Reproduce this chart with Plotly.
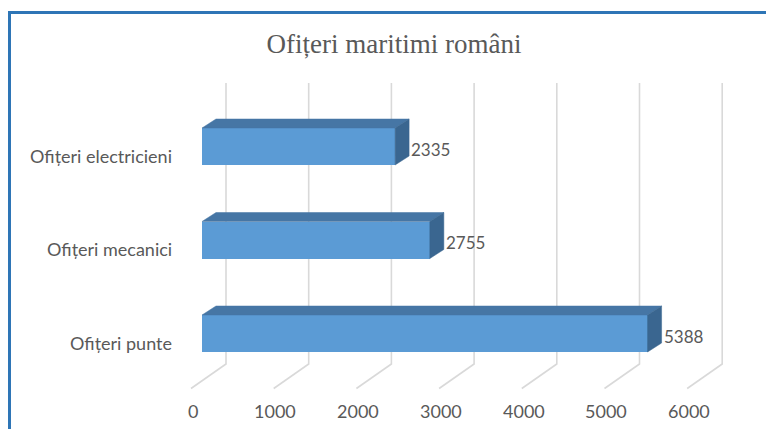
import plotly.graph_objects as go

# ---- data ----
categories = ["Ofițeri punte", "Ofițeri mecanici", "Ofițeri electricieni"]
values = [5388, 2755, 2335]
tick_values = [0, 1000, 2000, 3000, 4000, 5000, 6000]
tick_labels = ["0", "1000", "2000", "3000", "4000", "5000", "6000"]
title_text = "Ofițeri maritimi români"

# ---- geometry / style ----
W, H = 766, 429
PX_PER_VAL = 0.0827      # pixels per value unit
X0_PX = 202              # pixel of value 0 on bar front plane
PX_PER_CAT = 93.5        # pixels per category step
Y0_PX = 333.5            # pixel of first category centre
BAR_W = 37 / PX_PER_CAT
DX = 14 / PX_PER_VAL     # bar depth (value units)
DY = 9 / PX_PER_CAT      # bar depth (category units)
WALL_DX = 24 / PX_PER_VAL
FLOOR_DX = -11 / PX_PER_VAL
GRID_TOP = (Y0_PX - 83) / PX_PER_CAT
GRID_BOT = (Y0_PX - 364) / PX_PER_CAT
FLOOR_Y = (Y0_PX - 388.5) / PX_PER_CAT

FRONT = "#5B9BD5"
TOP = "#4676A5"
SIDE = "#3A6690"
GRID = "#D9D9D9"
TXT = "#595959"
FONT = "Lato"

ypos = list(range(len(categories)))

fig = go.Figure()

# back-wall gridlines + floor lines (below the bars)
shapes = []
for v in tick_values:
    path = "M {a},{b} L {c},{d} L {e},{f}".format(
        a=v + WALL_DX, b=GRID_TOP, c=v + WALL_DX, d=GRID_BOT,
        e=v + FLOOR_DX, f=FLOOR_Y)
    shapes.append(dict(type="path", path=path, xref="x", yref="y",
                       line=dict(color=GRID, width=1.6), layer="below"))

# bar front faces
fig.add_trace(go.Bar(x=values, y=ypos, orientation="h", width=BAR_W,
                     marker=dict(color=FRONT, line=dict(width=0)),
                     hoverinfo="x", showlegend=False))

# top and side faces
for k, v in zip(ypos, values):
    t = k + BAR_W / 2
    b = k - BAR_W / 2
    fig.add_trace(go.Scatter(
        x=[0, v, v + DX, DX, 0], y=[t, t, t + DY, t + DY, t],
        fill="toself", fillcolor=TOP, mode="lines",
        line=dict(color=TOP, width=0.5), hoverinfo="skip", showlegend=False))
    fig.add_trace(go.Scatter(
        x=[v, v + DX, v + DX, v, v], y=[b, b + DY, t + DY, t, b],
        fill="toself", fillcolor=SIDE, mode="lines",
        line=dict(color=SIDE, width=0.5), hoverinfo="skip", showlegend=False))

annotations = []
# data labels
for k, v in zip(ypos, values):
    annotations.append(dict(x=v + DX, y=k - 2.5 / PX_PER_CAT, text=str(v),
                            xanchor="left", yanchor="middle", showarrow=False,
                            font=dict(family=FONT, size=17, color=TXT)))
# category labels
for k, c in zip(ypos, categories):
    annotations.append(dict(x=(174 - X0_PX) / PX_PER_VAL, y=k - 9 / PX_PER_CAT,
                            text=c, xanchor="right", yanchor="middle",
                            showarrow=False,
                            font=dict(family=FONT, size=18, color=TXT)))
# value axis labels
for v, lab in zip(tick_values, tick_labels):
    annotations.append(dict(x=v - 9.3 / PX_PER_VAL, y=(Y0_PX - 410.5) / PX_PER_CAT,
                            text=lab, xanchor="center", yanchor="middle",
                            showarrow=False,
                            font=dict(family=FONT, size=18, color=TXT)))

shapes.append(dict(type="rect", xref="paper", yref="paper",
                   x0=9.5 / W, y0=1 - 12.5 / H, x1=1.05, y1=-0.05,
                   line=dict(color="#2E75B6", width=3), layer="above"))

fig.update_layout(
    width=W, height=H, margin=dict(l=0, r=0, t=0, b=0),
    paper_bgcolor="white", plot_bgcolor="rgba(0,0,0,0)",
    xaxis=dict(range=[-X0_PX / PX_PER_VAL, (W - X0_PX) / PX_PER_VAL],
               visible=False, fixedrange=True),
    yaxis=dict(range=[(Y0_PX - H) / PX_PER_CAT, Y0_PX / PX_PER_CAT],
               visible=False, fixedrange=True),
    title=dict(text=title_text, x=394 / W, y=1 - 44 / H,
               xanchor="center", yanchor="middle",
               font=dict(family="Liberation Serif", size=27, color=TXT)),
    annotations=annotations,
    shapes=shapes,
    bargap=0,
)

fig.write_html("out.html",
               config={"displayModeBar": False},
               post_script="document.body.style.margin='0';"
                           "document.body.style.overflow='hidden';")
